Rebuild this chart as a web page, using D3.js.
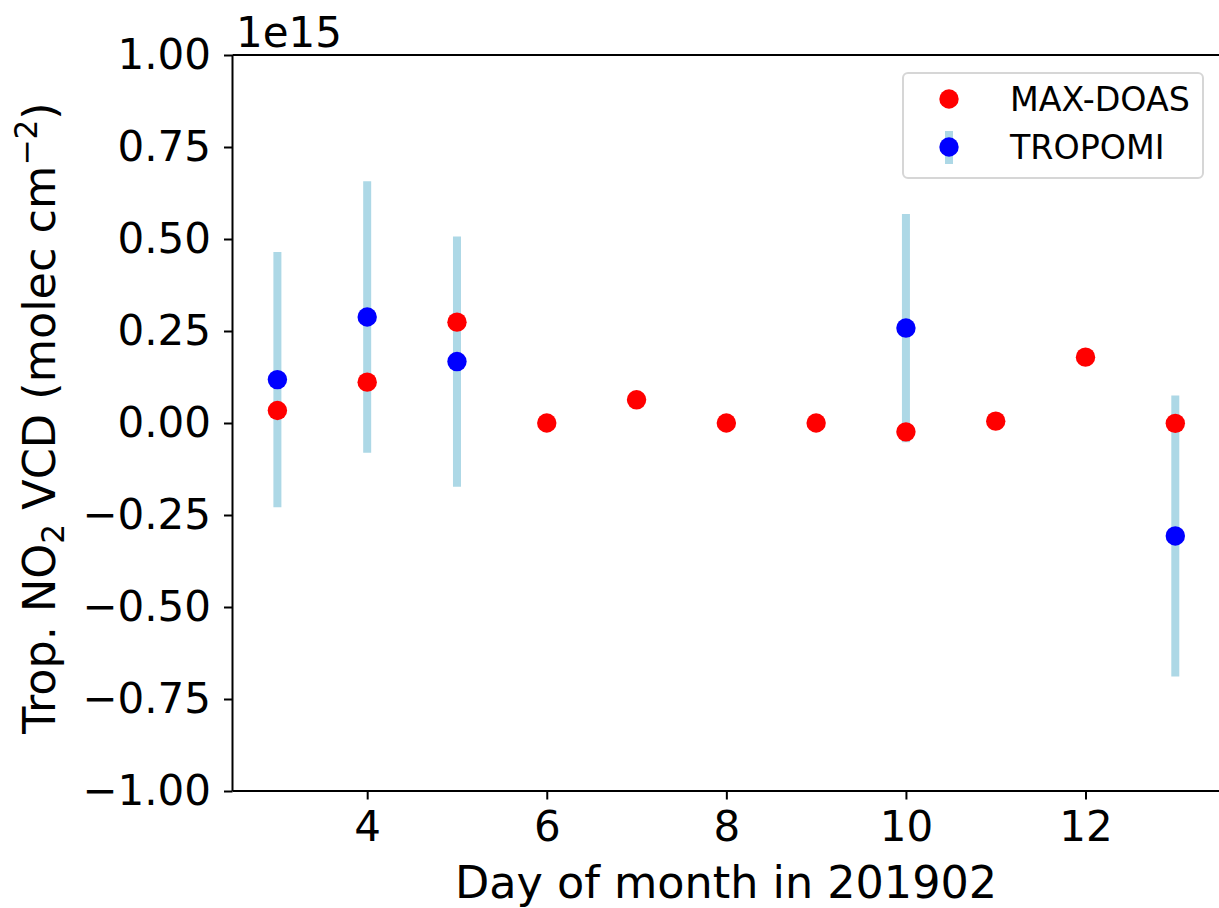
<!DOCTYPE html>
<html><head><meta charset="utf-8">
<script src="https://cdn.jsdelivr.net/npm/d3@7"></script>
<style>body{margin:0;background:#fff}svg{display:block;font-family:"DejaVu Sans",sans-serif}</style>
</head><body><svg id="c" width="1219" height="908"></svg>
<script>
const maxDays = [3,4,5,6,7,8,9,10,11,12,13];
const maxVals = [0.034,0.111,0.274,0.0,0.063,0.0,0.0,-0.024,0.005,0.179,-0.001];
const tropDays = [3,4,5,10,13];
const tropVals = [0.118,0.288,0.167,0.258,-0.307];
const tropErr = [0.347,0.369,0.340,0.310,0.382];
const xTicks = [4,6,8,10,12];
const yTicks = [-1,-0.75,-0.5,-0.25,0,0.25,0.5,0.75,1];
const seriesNames = ["MAX-DOAS","TROPOMI"];

const svg = d3.select("#c");
const x = d3.scaleLinear().domain([2.5,13.5]).range([232.5,1220.2]);
const y = d3.scaleLinear().domain([-1,1]).range([791,55]);
const fs = 42;
const lfs = 44.5;

// error bars
svg.append("g").selectAll("line").data(tropDays).join("line")
  .attr("x1",d=>x(d)).attr("x2",d=>x(d))
  .attr("y1",(d,i)=>y(tropVals[i]+tropErr[i])).attr("y2",(d,i)=>y(tropVals[i]-tropErr[i]))
  .attr("stroke","#add8e6").attr("stroke-width",8);
// TROPOMI points
svg.append("g").selectAll("circle").data(tropDays).join("circle")
  .attr("cx",d=>x(d)).attr("cy",(d,i)=>y(tropVals[i])).attr("r",9.7).attr("fill","#0000ff");
// MAX-DOAS points
svg.append("g").selectAll("circle").data(maxDays).join("circle")
  .attr("cx",d=>x(d)).attr("cy",(d,i)=>y(maxVals[i])).attr("r",9.7).attr("fill","#ff0000");

// axes
const xAxis = d3.axisBottom(x).tickValues(xTicks).tickSize(8.5).tickPadding(12).tickFormat(d3.format("d"));
const gx = svg.append("g").attr("transform","translate(0,791)").call(xAxis);
gx.select(".domain").attr("stroke","#000").attr("stroke-width",2).attr("d",`M${x(2.5)},0H${x(13.5)}`);
gx.selectAll(".tick line").attr("stroke-width",2);
gx.selectAll(".tick text").attr("font-size",fs).attr("fill","#000").attr("font-family","DejaVu Sans").attr("dy","0.71em");

const yAxis = d3.axisLeft(y).tickValues(yTicks).tickSize(8.5).tickPadding(13).tickFormat(d3.format(".2f"));
const gy = svg.append("g").attr("transform",`translate(${x(2.5)},0)`).call(yAxis);
gy.select(".domain").attr("stroke","#000").attr("stroke-width",2).attr("d",`M0,${y(-1)}V${y(1)}`);
gy.selectAll(".tick line").attr("stroke-width",2);
gy.selectAll(".tick text").attr("font-size",fs).attr("fill","#000").attr("font-family","DejaVu Sans");

// top / right spines
svg.append("line").attr("x1",x(2.5)).attr("x2",x(13.5)).attr("y1",y(1)).attr("y2",y(1)).attr("stroke","#000").attr("stroke-width",2);
svg.append("line").attr("x1",x(13.5)).attr("x2",x(13.5)).attr("y1",y(1)).attr("y2",y(-1)).attr("stroke","#000").attr("stroke-width",2);

// offset text
svg.append("text").attr("x",236).attr("y",47).attr("font-size",fs).text("1e15");

// x label
svg.append("text").attr("x",726).attr("y",898).attr("text-anchor","middle").attr("font-size",lfs).text("Day of month in 201902");

// y label
const yl = svg.append("text").attr("transform","translate(55,418) rotate(-90)").attr("text-anchor","middle").attr("font-size",lfs);
yl.append("tspan").text("Trop. NO");
yl.append("tspan").attr("font-size",lfs*0.7).attr("dy",8.5).text("2");
yl.append("tspan").attr("dy",-8.5).text(" VCD (molec cm");
yl.append("tspan").attr("font-size",lfs*0.7).attr("dy",-18).text("−2");
yl.append("tspan").attr("dy",18).text(")");

// legend
const lg = svg.append("g");
lg.append("rect").attr("x",903).attr("y",73).attr("width",300).attr("height",105).attr("rx",5)
  .attr("fill","#fff").attr("fill-opacity",0.8).attr("stroke","#d6d6d6").attr("stroke-width",2);
const ly = [99,147];
lg.append("line").attr("x1",949).attr("x2",949).attr("y1",131).attr("y2",164).attr("stroke","#add8e6").attr("stroke-width",8);
lg.selectAll("circle").data(seriesNames).join("circle")
  .attr("cx",949).attr("cy",(d,i)=>ly[i]).attr("r",9.7).attr("fill",(d,i)=>i===0?"#ff0000":"#0000ff");
lg.selectAll("text").data(seriesNames).join("text")
  .attr("x",1010).attr("y",(d,i)=>ly[i]).attr("dy","0.36em").attr("font-size",33.3).text(d=>d);
</script></body></html>
